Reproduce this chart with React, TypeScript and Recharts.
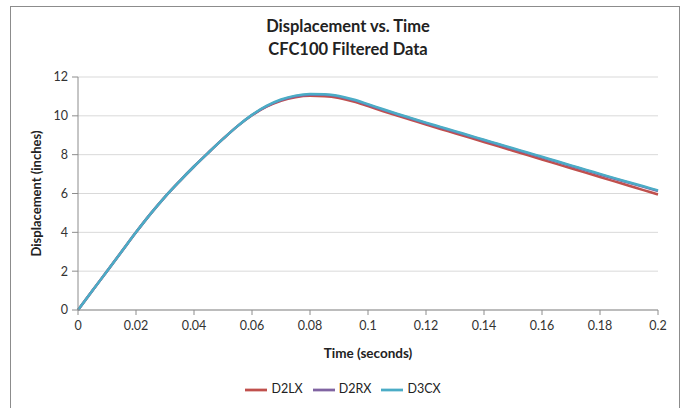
import React from 'react';
import { LineChart, Line, XAxis, YAxis, CartesianGrid, Legend, Label } from 'recharts';

const time = [
  0, 0.005, 0.01, 0.015, 0.02, 0.025, 0.03, 0.035, 0.04, 0.045, 0.05, 0.055, 0.06, 0.065, 0.07, 0.075, 0.08,
  0.085, 0.09, 0.095, 0.1, 0.105, 0.11, 0.115, 0.12, 0.125, 0.13, 0.135, 0.14, 0.145, 0.15, 0.155, 0.16,
  0.165, 0.17, 0.175, 0.18, 0.185, 0.19, 0.195, 0.2,
];

const d2lx = [
  0, 1.0, 2.0, 3.0, 4.0, 4.95, 5.83, 6.63, 7.39, 8.11, 8.81, 9.47, 10.03, 10.47, 10.78, 10.96, 11.03,
  11.01, 10.92, 10.74, 10.5, 10.25, 10.01, 9.78, 9.55, 9.325, 9.1, 8.875, 8.65, 8.425, 8.2, 7.975, 7.75,
  7.525, 7.3, 7.075, 6.85, 6.625, 6.4, 6.175, 5.95,
];

const d2rx = [
  0, 1.0, 2.0, 3.0, 4.0, 4.95, 5.83, 6.63, 7.39, 8.11, 8.81, 9.47, 10.04, 10.49, 10.81, 11.01, 11.09,
  11.08, 10.99, 10.81, 10.57, 10.32, 10.08, 9.85, 9.62, 9.4, 9.18, 8.96, 8.74, 8.52, 8.3, 8.08, 7.86,
  7.64, 7.42, 7.2, 6.98, 6.76, 6.55, 6.34, 6.13,
];

const d3cx = [
  0, 1.0, 2.0, 3.0, 4.0, 4.95, 5.83, 6.63, 7.39, 8.11, 8.81, 9.47, 10.05, 10.51, 10.84, 11.04, 11.12,
  11.11, 11.02, 10.84, 10.6, 10.35, 10.11, 9.88, 9.65, 9.43, 9.21, 8.99, 8.77, 8.55, 8.33, 8.11, 7.89,
  7.67, 7.45, 7.23, 7.01, 6.79, 6.58, 6.37, 6.16,
];

const xTicks = [0, 0.02, 0.04, 0.06, 0.08, 0.1, 0.12, 0.14, 0.16, 0.18, 0.2];
const yTicks = [0, 2, 4, 6, 8, 10, 12];
const seriesNames = ['D2LX', 'D2RX', 'D3CX'];
const seriesColors = ['#C0504D', '#8064A2', '#4BACC6'];
const titleLines = ['Displacement vs. Time', 'CFC100 Filtered Data'];

const seriesValues = [d2lx, d2rx, d3cx];
const data = time.map((t, i) => {
  const row: Record<string, number> = { t };
  seriesNames.forEach((n, k) => {
    row[n] = seriesValues[k][i];
  });
  return row;
});

const FONT = 'Lato, "Open Sans", sans-serif';

export default function App() {
  return (
    <div style={{ position: 'absolute', left: 0, top: 0, width: 686, height: 408, background: '#fff', fontFamily: FONT, overflow: 'hidden' }}>
      <div style={{ position: 'absolute', left: 10, top: 6, width: 670, height: 420, border: '1px solid #8c8c8c', boxSizing: 'border-box' }} />
      <div style={{ position: 'absolute', left: 0, top: 15, width: 696, textAlign: 'center', fontWeight: 700, fontSize: 16.5, lineHeight: '23px', color: '#222' }}>
        {titleLines.map((l) => (
          <div key={l}>{l}</div>
        ))}
      </div>
      <div style={{ position: 'absolute', left: 0, top: 0 }}>
        <LineChart width={686} height={408} data={data} margin={{ top: 77, right: 28, bottom: 50, left: 10 }}>
          <CartesianGrid vertical={false} stroke="#D9D9D9" strokeWidth={1} />
          <XAxis
            dataKey="t"
            type="number"
            domain={[0, 0.2]}
            ticks={xTicks}
            interval={0}
            tickFormatter={(v: number) => String(+v.toFixed(2))}
            height={48}
            tickSize={5}
            tickMargin={6}
            axisLine={{ stroke: '#8c8c8c' }}
            tickLine={{ stroke: '#8c8c8c' }}
            tick={{ fill: '#333', fontSize: 12.5, fontFamily: FONT }}
          >
            <Label value="Time (seconds)" position="insideBottom" offset={0} style={{ fill: '#222', fontSize: 13.5, fontWeight: 700, fontFamily: FONT }} />
          </XAxis>
          <YAxis
            type="number"
            domain={[0, 12]}
            ticks={yTicks}
            interval={0}
            width={68}
            tickSize={6}
            tickMargin={4}
            axisLine={{ stroke: '#8c8c8c' }}
            tickLine={{ stroke: '#8c8c8c' }}
            tick={{ fill: '#333', fontSize: 12.5, fontFamily: FONT }}
          >
            <Label value="Displacement (inches)" angle={-90} position="insideLeft" offset={26} style={{ textAnchor: 'middle', fill: '#222', fontSize: 13, fontWeight: 700, fontFamily: FONT }} />
          </YAxis>
          <Legend
            verticalAlign="middle"
            align="center"
            layout="horizontal"
            iconType="plainline"
            iconSize={22}
            wrapperStyle={{ top: 379, left: 0, width: 696, fontSize: 12.5, fontFamily: FONT }}
            formatter={(v: string) => <span style={{ color: '#222' }}>{v}</span>}
          />
          {seriesNames.map((n, k) => (
            <Line
              key={n}
              dataKey={n}
              name={n}
              type="monotone"
              stroke={seriesColors[k]}
              strokeWidth={2.5}
              dot={false}
              isAnimationActive={false}
            />
          ))}
        </LineChart>
      </div>
    </div>
  );
}
